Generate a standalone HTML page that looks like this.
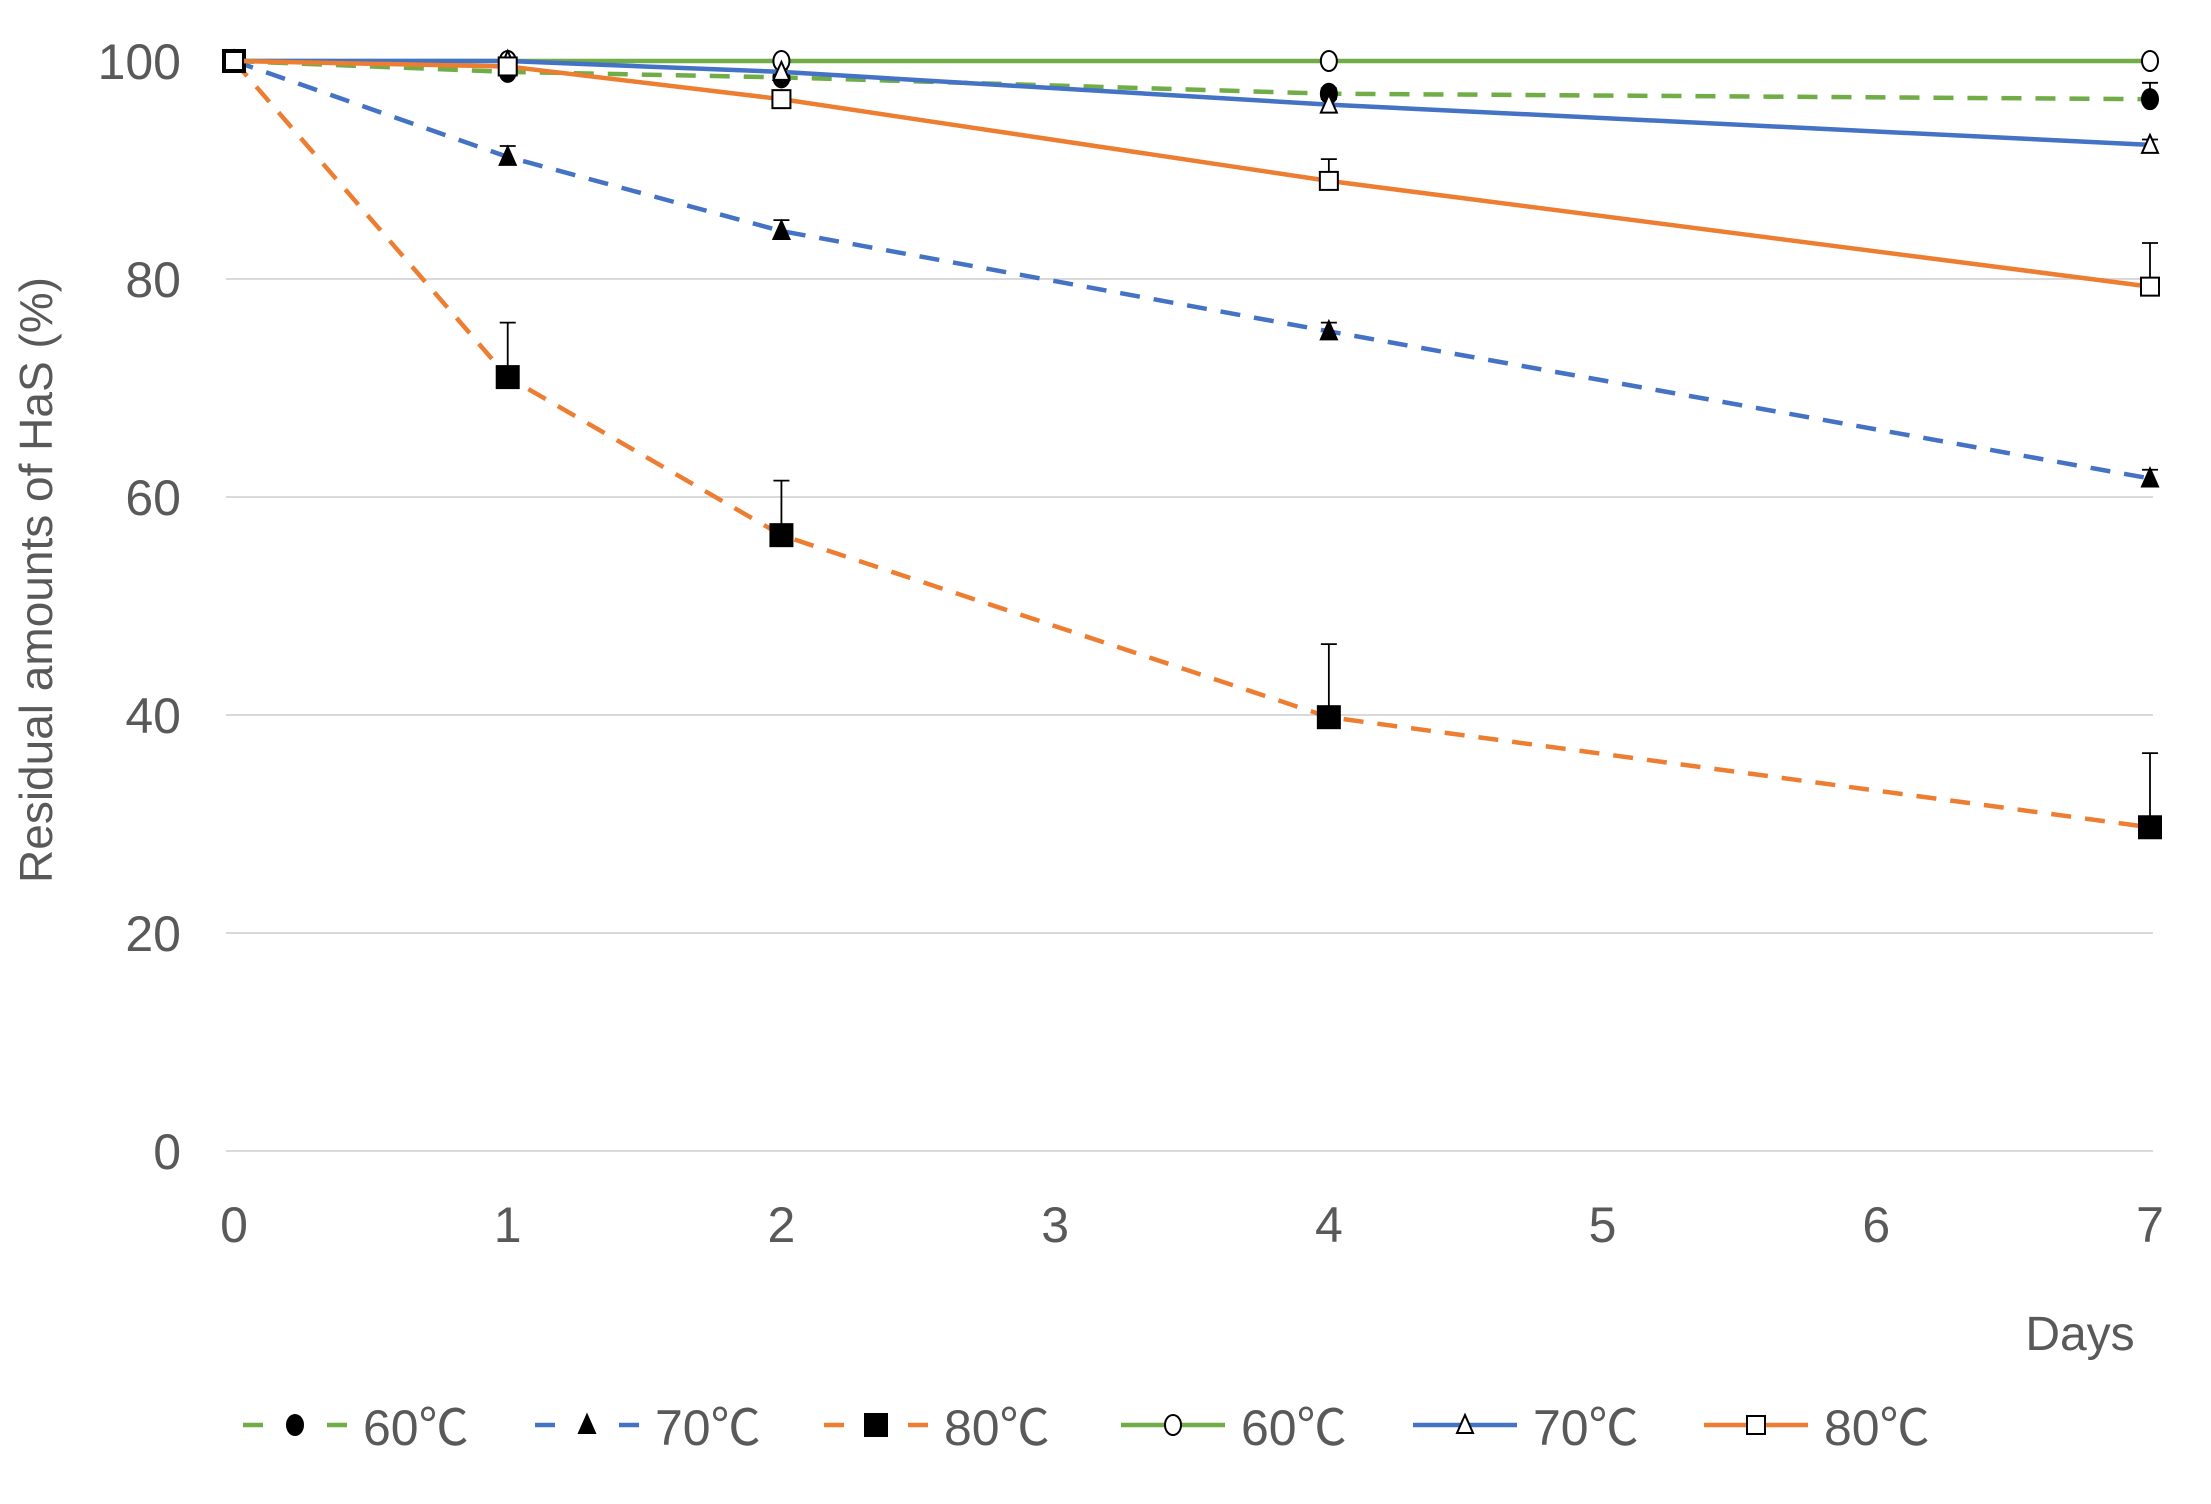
<!DOCTYPE html>
<html><head><meta charset="utf-8"><style>
html,body{margin:0;padding:0;background:#fff;}
svg{display:block;font-family:"Liberation Sans","Noto Sans CJK JP",sans-serif;}
</style></head><body>
<svg id="chart" width="2211" height="1504" viewBox="0 0 2211 1504" xmlns="http://www.w3.org/2000/svg"></svg>
<script>
const days = [0, 1, 2, 4, 7];
const xTicks = [0, 1, 2, 3, 4, 5, 6, 7];
const yTicks = [0, 20, 40, 60, 80, 100];
const seriesNames = ["60℃", "70℃", "80℃", "60℃", "70℃", "80℃"];
const dash60 = [100, 99, 98.5, 97, 96.5];
const dash70 = [100, 91.2, 84.4, 75.2, 61.7];
const dash80 = [100, 71, 56.5, 39.8, 29.7];
const solid60 = [100, 100, 100, 100, 100];
const solid70 = [100, 100, 99, 96, 92.3];
const solid80 = [100, 99.5, 96.5, 89, 79.3];
const errDash60 = [0, 0.3, 0.5, 0.5, 1.5];
const errDash70 = [0, 1, 1, 0.8, 0.8];
const errDash80 = [0, 5, 5, 6.7, 6.8];
const errSolid60 = [0, 0, 0, 0, 0];
const errSolid70 = [0, 0, 0, 0.5, 0.5];
const errSolid80 = [0, 0, 0.5, 2, 4];

const svg = document.getElementById('chart');
const NS = 'http://www.w3.org/2000/svg';
const X0 = 234, X1 = 2150, Y0 = 1151, Y1 = 61;
function sx(v){ return X0 + (v - 0) / 7 * (X1 - X0); }
function sy(v){ return Y0 - v / 100 * (Y0 - Y1); }
function mk(tag, attrs, parent){
  const e = document.createElementNS(NS, tag);
  for (const k in attrs) e.setAttribute(k, attrs[k]);
  (parent || svg).appendChild(e);
  return e;
}

yTicks.forEach(t => {
  const g = mk('line', {x1: 226, x2: 2153, y1: sy(t), y2: sy(t), stroke: '#d9d9d9', 'stroke-width': 2});
  
  
  const l = mk('text', {x: 181, y: sy(t) + 18, 'text-anchor': 'end', 'font-size': 50, fill: '#595959'});
  l.textContent = t;
  
  
});
xTicks.forEach(t => {
  const l = mk('text', {x: sx(t), y: 1242, 'text-anchor': 'middle', 'font-size': 50, fill: '#595959'});
  l.textContent = t;
  
  
});
const xt = mk('text', {x: 2080, y: 1350, 'text-anchor': 'middle', 'font-size': 48, fill: '#595959'});
xt.textContent = 'Days';


const yt = mk('text', {x: 0, y: 0, 'text-anchor': 'middle', 'font-size': 46, fill: '#595959', transform: 'translate(52,580) rotate(-90)'});
yt.textContent = 'Residual amounts of HaS (%)';



const series = [
  {vals: dash60, err: errDash60, color: '#70ad47', dash: true, marker: 'circle', fill: '#000', name: 'dashed-60'},
  {vals: dash70, err: errDash70, color: '#4472c4', dash: true, marker: 'triangle', fill: '#000', name: 'dashed-70'},
  {vals: dash80, err: errDash80, color: '#ed7d31', dash: true, marker: 'square', fill: '#000', name: 'dashed-80'},
  {vals: solid60, err: errSolid60, color: '#70ad47', dash: false, marker: 'circle', fill: '#fff', name: 'solid-60'},
  {vals: solid70, err: errSolid70, color: '#4472c4', dash: false, marker: 'triangle', fill: '#fff', name: 'solid-70'},
  {vals: solid80, err: errSolid80, color: '#ed7d31', dash: false, marker: 'square', fill: '#fff', name: 'solid-80'}
];

function drawMarker(type, x, y, fill, parent){
  let m;
  if (type === 'circle') m = mk('ellipse', {cx: x, cy: y, rx: 8, ry: 10, fill: fill, stroke: '#000', 'stroke-width': 2}, parent);
  else if (type === 'triangle') m = mk('polygon', {points: `${x},${y-10} ${x-8},${y+8} ${x+8},${y+8}`, fill: fill, stroke: '#000', 'stroke-width': 2}, parent);
  else {
    const h = fill === '#000' ? 11 : 9;
    m = mk('rect', {x: x-h, y: y-h, width: 2*h, height: 2*h, fill: fill, stroke: '#000', 'stroke-width': 2}, parent);
  }
  return m;
}

series.forEach(s => {
  const g = mk('g', {});
  
  
  const pts = days.map((d, i) => sx(d) + ',' + sy(s.vals[i])).join(' ');
  const pl = mk('polyline', {points: pts, fill: 'none', stroke: s.color, 'stroke-width': 4.5}, g);
  if (s.dash) pl.setAttribute('stroke-dasharray', '20 14');
  
  
  days.forEach((d, i) => {
    if (s.err[i] > 0.4) {
      const x = sx(d), ya = sy(s.vals[i]), yb = sy(s.vals[i] + s.err[i]);
      const e = mk('path', {d: `M${x},${ya} L${x},${yb} M${x-8},${yb} L${x+8},${yb}`, stroke: '#000', 'stroke-width': 1.8, fill: 'none'}, g);
      
      
    }
    const m = drawMarker(s.marker, sx(d), sy(s.vals[i]), s.fill, g);
    
    
  });
});

const legX = [243, 535, 824, 1121, 1413, 1704];
const lg = mk('g', {});


series.forEach((s, i) => {
  const g = mk('g', {}, lg);
  
  
  const x = legX[i], y = 1425;
  if (s.dash) {
    mk('line', {x1: x, x2: x + 20, y1: y, y2: y, stroke: s.color, 'stroke-width': 4.5}, g);
    mk('line', {x1: x + 84, x2: x + 104, y1: y, y2: y, stroke: s.color, 'stroke-width': 4.5}, g);
  } else {
    mk('line', {x1: x, x2: x + 104, y1: y, y2: y, stroke: s.color, 'stroke-width': 4.5}, g);
  }
  drawMarker(s.marker, x + 52, y, s.fill, g);
  const t = mk('text', {x: x + 120, y: y + 20, 'font-size': 50, fill: '#595959'}, g);
  t.textContent = seriesNames[i];
});
</script>
</body></html>
